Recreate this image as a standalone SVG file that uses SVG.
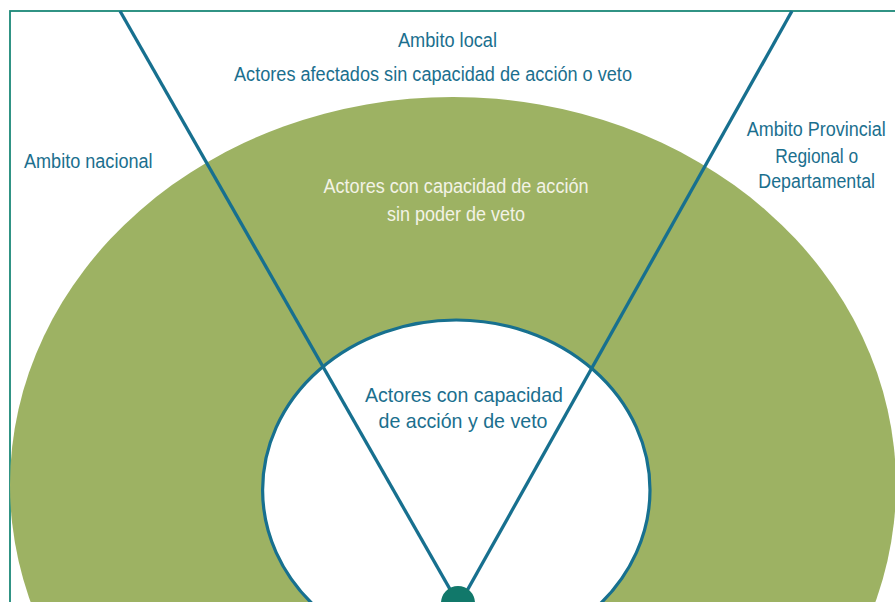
<svg xmlns="http://www.w3.org/2000/svg" width="895" height="602" viewBox="0 0 895 602">
<style>
  .lbl { font-family: "Liberation Sans Narrow", "Liberation Sans", Arial, sans-serif; font-size: 20px; fill: #1b6f8e; text-anchor: middle; }
  .lt { fill: #f3f3e6; }
  .ray { stroke: #17708f; stroke-width: 3.3; fill: none; }
</style>
<rect x="10" y="11" width="900" height="600" fill="#ffffff" stroke="#1b8878" stroke-width="1.8"/>
<g id="outer-ring">
  <ellipse cx="453" cy="485" rx="443" ry="388" fill="#9db263"/>
  <text class="lbl lt" x="456" y="193" textLength="265" lengthAdjust="spacingAndGlyphs">Actores con capacidad de acción</text>
  <text class="lbl lt" x="456" y="221" textLength="138" lengthAdjust="spacingAndGlyphs">sin poder de veto</text>
</g>
<g id="inner-core">
  <ellipse cx="456.3" cy="490" rx="193.7" ry="170" fill="#ffffff" stroke="#17708f" stroke-width="3.2"/>
</g>
<g id="connectors">
  <line class="ray" x1="120" y1="11" x2="459" y2="605"/>
  <line class="ray" x1="792" y1="11" x2="459" y2="605"/>
</g>
<g id="center-dot">
  <circle cx="458" cy="603" r="17" fill="#11786a"/>
</g>
<g id="inner-label">
  <text class="lbl" style="font-size:21px" x="464" y="401.5" textLength="198" lengthAdjust="spacingAndGlyphs">Actores con capacidad</text>
  <text class="lbl" style="font-size:21px" x="463" y="427.5" textLength="169" lengthAdjust="spacingAndGlyphs">de acción y de veto</text>
</g>
<g id="ambito-local">
  <text class="lbl" x="447.5" y="46.7" textLength="99" lengthAdjust="spacingAndGlyphs">Ambito local</text>
  <text class="lbl" x="433" y="80.5" textLength="398" lengthAdjust="spacingAndGlyphs">Actores afectados sin capacidad de acción o veto</text>
</g>
<g id="ambito-nacional">
  <text class="lbl" x="88.3" y="168" textLength="128.7" lengthAdjust="spacingAndGlyphs">Ambito nacional</text>
</g>
<g id="ambito-provincial">
  <text class="lbl" x="816.2" y="136" textLength="139" lengthAdjust="spacingAndGlyphs">Ambito Provincial</text>
  <text class="lbl" x="816.7" y="162.5" textLength="83" lengthAdjust="spacingAndGlyphs">Regional o</text>
  <text class="lbl" x="816.7" y="187.5" textLength="116.7" lengthAdjust="spacingAndGlyphs">Departamental</text>
</g>
</svg>
